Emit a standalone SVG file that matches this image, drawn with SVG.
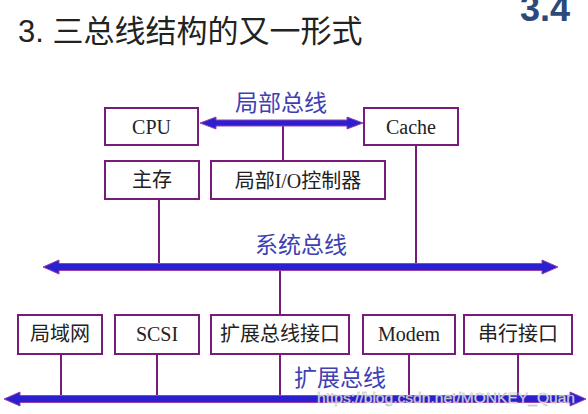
<svg xmlns="http://www.w3.org/2000/svg" width="588" height="414" viewBox="0 0 588 414">
<style>
.box{fill:#fff;stroke:#7a1a7a;stroke-width:2}
.t{font-family:"Liberation Serif","Noto Sans CJK SC",serif;font-size:20px;fill:#222;text-anchor:middle}
.lbl{font-family:"Noto Sans CJK SC",sans-serif;font-size:23px;fill:#4040b4;text-anchor:middle}
.ln{stroke:#7a1a7a;stroke-width:2;fill:none}
.bus{fill:#2a20d0;stroke:#9a40b0;stroke-width:1}
</style>
<rect width="588" height="414" fill="#fff"/>
<text x="18" y="42" font-family="Liberation Sans,'Noto Sans CJK SC',sans-serif" font-size="31" fill="#222">3. 三总线结构的又一形式</text>
<text x="545" y="21" font-family="Liberation Sans,sans-serif" font-size="36" font-weight="bold" fill="#2b4a7a" text-anchor="middle">3.4</text>
<g id="connectors">
<line class="ln" x1="283" y1="123" x2="283" y2="161"/>
<line class="ln" x1="159" y1="199" x2="159" y2="267"/>
<line class="ln" x1="416" y1="145" x2="416" y2="267"/>
<line class="ln" x1="280" y1="267" x2="280" y2="315"/>
<line class="ln" x1="61" y1="354" x2="61" y2="399"/>
<line class="ln" x1="157" y1="354" x2="157" y2="399"/>
<line class="ln" x1="280" y1="354" x2="280" y2="399"/>
<line class="ln" x1="409" y1="354" x2="409" y2="399"/>
<line class="ln" x1="518" y1="354" x2="518" y2="399"/>
</g>
<g id="local-bus">
<polygon class="bus" points="200,123 216,117 216,120 347,120 347,117 363,123 347,129 347,126 216,126 216,129"/>
<text class="lbl" x="281" y="111">局部总线</text>
</g>
<g id="system-bus">
<polygon class="bus" points="43,267 59,260 59,263.5 542,263.5 542,260 558,267 542,274 542,270.5 59,270.5 59,274"/>
<text class="lbl" x="301" y="253">系统总线</text>
</g>
<g id="expansion-bus">
<polygon class="bus" points="4,399 20,392 20,395.5 570,395.5 570,392 586,399 570,406 570,402.5 20,402.5 20,406"/>
<text class="lbl" x="340" y="386">扩展总线</text>
</g>
<g id="cpu"><rect class="box" x="105" y="108" width="93" height="37"/><text class="t" x="151.5" y="134">CPU</text></g>
<g id="cache"><rect class="box" x="364" y="108" width="94" height="37"/><text class="t" x="411" y="134">Cache</text></g>
<g id="memory"><rect class="box" x="105" y="161" width="94" height="38"/><text class="t" x="152" y="187">主存</text></g>
<g id="local-io"><rect class="box" x="211" y="161" width="174" height="38"/><text class="t" x="298" y="188">局部I/O控制器</text></g>
<g id="lan"><rect class="box" x="18" y="315" width="84" height="39"/><text class="t" x="60" y="341">局域网</text></g>
<g id="scsi"><rect class="box" x="115" y="315" width="84" height="39"/><text class="t" x="157" y="341">SCSI</text></g>
<g id="ext-if"><rect class="box" x="211" y="315" width="138" height="39"/><text class="t" x="280" y="341">扩展总线接口</text></g>
<g id="modem"><rect class="box" x="363" y="315" width="92" height="39"/><text class="t" x="409" y="341">Modem</text></g>
<g id="serial"><rect class="box" x="464" y="315" width="108" height="39"/><text class="t" x="518" y="341">串行接口</text></g>
<text x="317" y="403" font-family="Liberation Sans,sans-serif" font-size="15" textLength="258" lengthAdjust="spacingAndGlyphs" fill="#fff" fill-opacity="0.85" stroke="#aaa" stroke-width="0.4">https://blog.csdn.net/MONKEY_Quan</text>
</svg>
